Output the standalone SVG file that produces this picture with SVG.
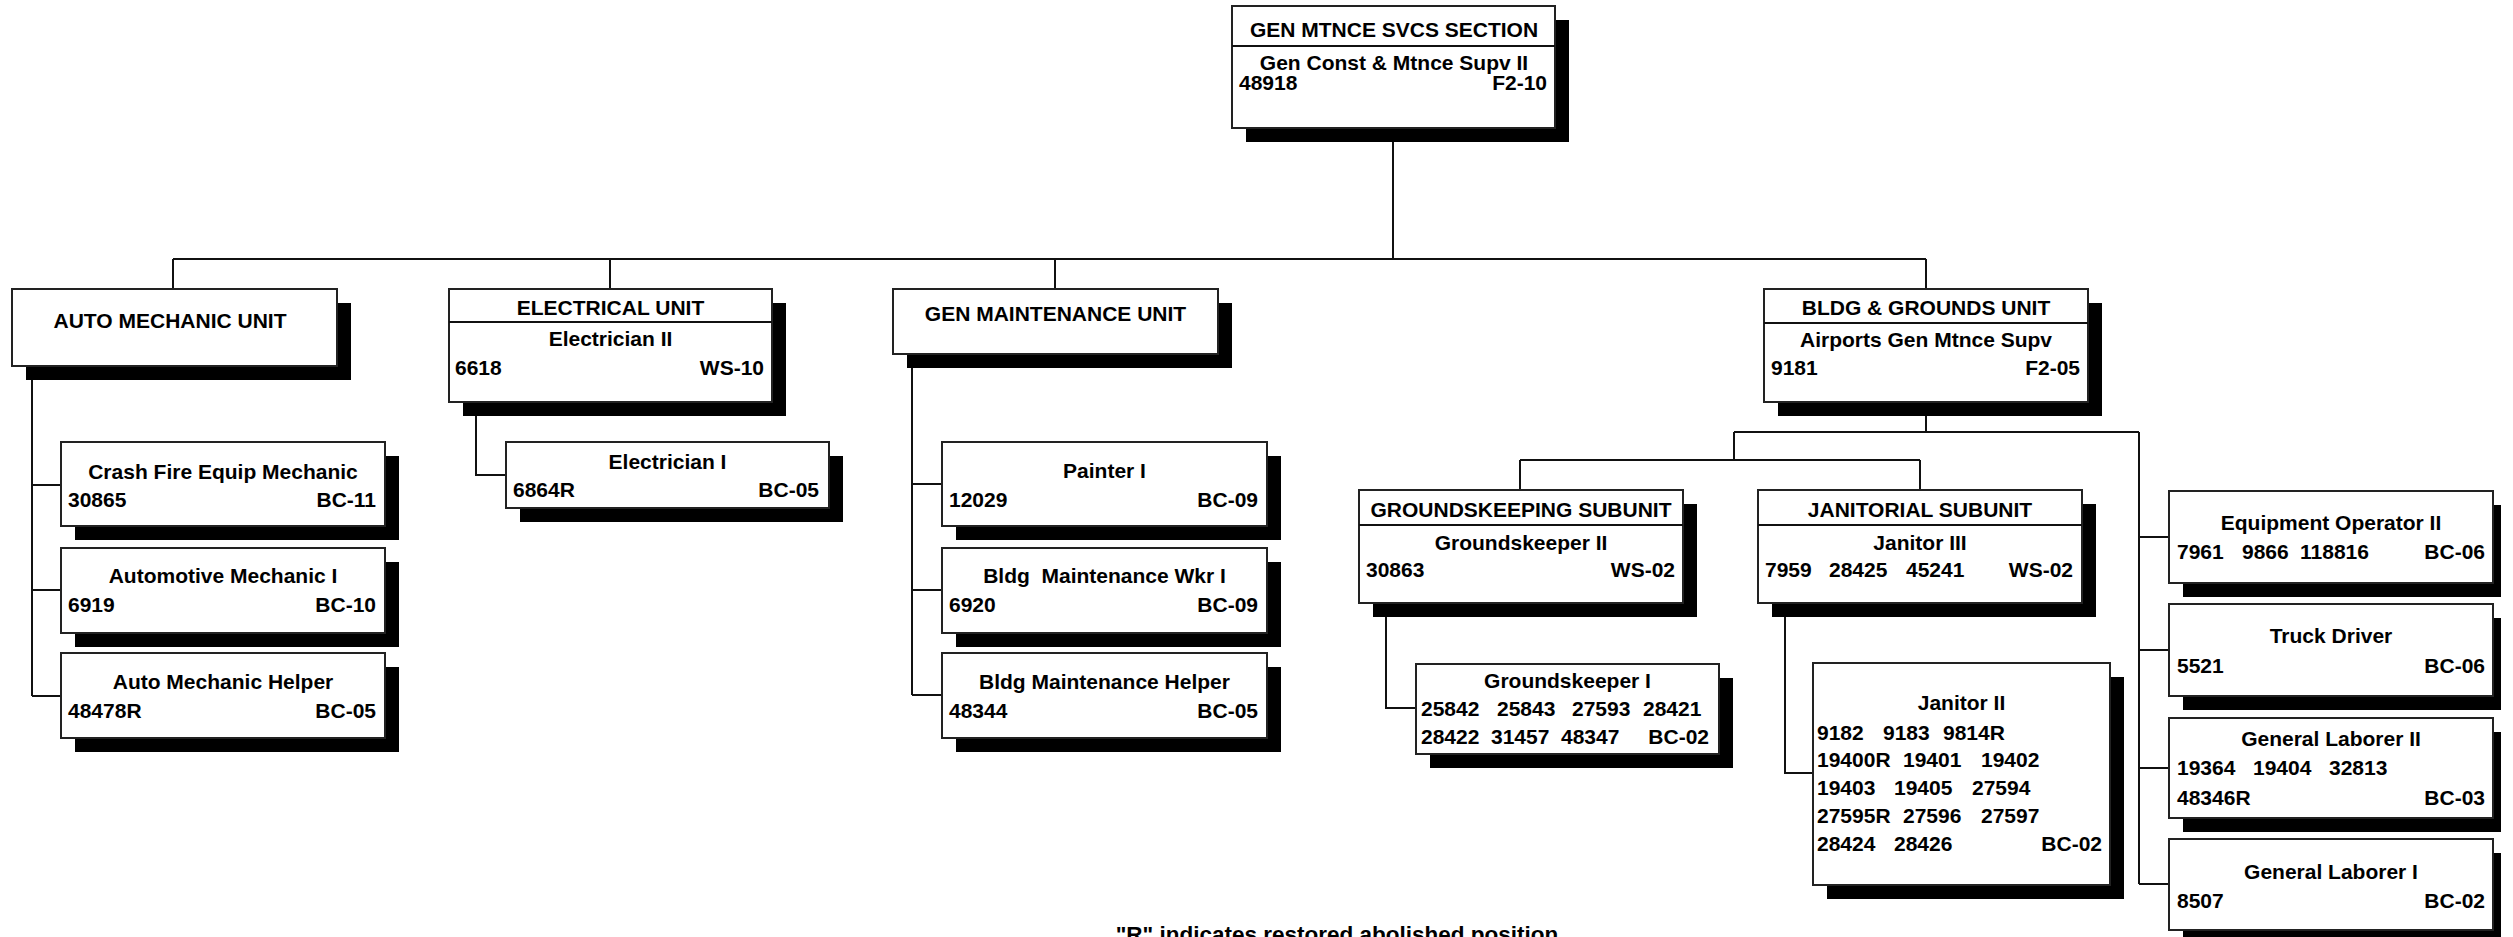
<svg xmlns="http://www.w3.org/2000/svg" width="2513" height="937" viewBox="0 0 2513 937">
<style>
.box{fill:#fff;stroke:#222;stroke-width:2}
.sh{fill:#000}
.ln{fill:none;stroke:#111;stroke-width:2}
text{font-family:'Liberation Sans',Arial,sans-serif;font-weight:bold;font-size:21px;fill:#000}
.c{text-anchor:middle}
.r{text-anchor:end}
.ft{font-size:22.5px}
</style>
<rect x="0" y="0" width="2513" height="937" fill="#fff"/>
<g id="connectors" class="ln">
<path d="M1393 128V259M173 259H1926M173 259V289M610 259V289M1055 259V289M1926 259V289"/>
<path d="M32 366V696M32 485H61M32 590H61M32 696H61"/>
<path d="M476 402V475H506"/>
<path d="M912 354V695M912 484H942M912 590H942M912 695H942"/>
<path d="M1926 402V432M1734 432H2139M1734 432V460M1520 460H1920M1520 460V490M1920 460V490"/>
<path d="M2139 432V884M2139 537H2169M2139 650H2169M2139 768H2169M2139 884H2169"/>
<path d="M1386 603V708H1416M1785 603V773H1813"/>
</g>
<g id="n-section">
<rect class="sh" x="1246" y="20" width="323" height="122"/>
<rect class="box" x="1232" y="6" width="323" height="122"/>
<line class="ln" x1="1232" y1="46" x2="1555" y2="46"/>
<text class="c" x="1394" y="37">GEN MTNCE SVCS SECTION</text>
<text class="c" x="1394" y="69.5">Gen Const &amp; Mtnce Supv II</text>
<text x="1239" y="89.5">48918</text>
<text class="r" x="1547" y="89.5">F2-10</text>
</g>
<g id="n-auto">
<rect class="sh" x="26" y="303" width="325" height="77"/>
<rect class="box" x="12" y="289" width="325" height="77"/>
<text class="c" x="170" y="327.5">AUTO MECHANIC UNIT</text>
</g>
<g id="n-crash">
<rect class="sh" x="75" y="456" width="324" height="84"/>
<rect class="box" x="61" y="442" width="324" height="84"/>
<text class="c" x="223" y="479">Crash Fire Equip Mechanic</text>
<text x="68" y="507">30865</text>
<text class="r" x="376" y="507">BC-11</text>
</g>
<g id="n-automotive">
<rect class="sh" x="75" y="562" width="324" height="85"/>
<rect class="box" x="61" y="548" width="324" height="85"/>
<text class="c" x="223" y="583">Automotive Mechanic I</text>
<text x="68" y="612">6919</text>
<text class="r" x="376" y="612">BC-10</text>
</g>
<g id="n-autohelper">
<rect class="sh" x="75" y="667" width="324" height="85"/>
<rect class="box" x="61" y="653" width="324" height="85"/>
<text class="c" x="223" y="688.5">Auto Mechanic Helper</text>
<text x="68" y="717.5">48478R</text>
<text class="r" x="376" y="717.5">BC-05</text>
</g>
<g id="n-electrical">
<rect class="sh" x="463" y="303" width="323" height="113"/>
<rect class="box" x="449" y="289" width="323" height="113"/>
<line class="ln" x1="449" y1="322" x2="772" y2="322"/>
<text class="c" x="610.5" y="315">ELECTRICAL UNIT</text>
<text class="c" x="610.5" y="346">Electrician II</text>
<text x="455" y="375">6618</text>
<text class="r" x="764" y="375">WS-10</text>
</g>
<g id="n-electrician1">
<rect class="sh" x="520" y="456" width="323" height="66"/>
<rect class="box" x="506" y="442" width="323" height="66"/>
<text class="c" x="667.5" y="468.5">Electrician I</text>
<text x="513" y="497">6864R</text>
<text class="r" x="819" y="497">BC-05</text>
</g>
<g id="n-genmaint">
<rect class="sh" x="907" y="303" width="325" height="65"/>
<rect class="box" x="893" y="289" width="325" height="65"/>
<text class="c" x="1055.5" y="321">GEN MAINTENANCE UNIT</text>
</g>
<g id="n-painter">
<rect class="sh" x="956" y="456" width="325" height="84"/>
<rect class="box" x="942" y="442" width="325" height="84"/>
<text class="c" x="1104.5" y="478">Painter I</text>
<text x="949" y="507">12029</text>
<text class="r" x="1258" y="507">BC-09</text>
</g>
<g id="n-bldgwkr">
<rect class="sh" x="956" y="562" width="325" height="85"/>
<rect class="box" x="942" y="548" width="325" height="85"/>
<text class="c" x="1104.5" y="583" xml:space="preserve">Bldg  Maintenance Wkr I</text>
<text x="949" y="612">6920</text>
<text class="r" x="1258" y="612">BC-09</text>
</g>
<g id="n-bldghelper">
<rect class="sh" x="956" y="667" width="325" height="85"/>
<rect class="box" x="942" y="653" width="325" height="85"/>
<text class="c" x="1104.5" y="688.5">Bldg Maintenance Helper</text>
<text x="949" y="717.5">48344</text>
<text class="r" x="1258" y="717.5">BC-05</text>
</g>
<g id="n-bldggrounds">
<rect class="sh" x="1778" y="303" width="324" height="113"/>
<rect class="box" x="1764" y="289" width="324" height="113"/>
<line class="ln" x1="1764" y1="323" x2="2088" y2="323"/>
<text class="c" x="1926" y="314.5">BLDG &amp; GROUNDS UNIT</text>
<text class="c" x="1926" y="346.5">Airports Gen Mtnce Supv</text>
<text x="1771" y="375">9181</text>
<text class="r" x="2080" y="375">F2-05</text>
</g>
<g id="n-groundskeeping">
<rect class="sh" x="1373" y="504" width="324" height="113"/>
<rect class="box" x="1359" y="490" width="324" height="113"/>
<line class="ln" x1="1359" y1="525" x2="1683" y2="525"/>
<text class="c" x="1521" y="517">GROUNDSKEEPING SUBUNIT</text>
<text class="c" x="1521" y="549.5">Groundskeeper II</text>
<text x="1366" y="577">30863</text>
<text class="r" x="1675" y="577">WS-02</text>
</g>
<g id="n-groundskeeper1">
<rect class="sh" x="1430" y="678" width="303" height="90"/>
<rect class="box" x="1416" y="664" width="303" height="90"/>
<text class="c" x="1567.5" y="687.5">Groundskeeper I</text>
<text x="1421" y="716">25842</text>
<text x="1497" y="716">25843</text>
<text x="1572" y="716">27593</text>
<text x="1643" y="716">28421</text>
<text x="1421" y="744">28422</text>
<text x="1491" y="744">31457</text>
<text x="1561" y="744">48347</text>
<text class="r" x="1709" y="744">BC-02</text>
</g>
<g id="n-janitorial">
<rect class="sh" x="1772" y="504" width="324" height="113"/>
<rect class="box" x="1758" y="490" width="324" height="113"/>
<line class="ln" x1="1758" y1="525" x2="2082" y2="525"/>
<text class="c" x="1920" y="517">JANITORIAL SUBUNIT</text>
<text class="c" x="1920" y="549.5">Janitor III</text>
<text x="1765" y="577">7959</text>
<text x="1829" y="577">28425</text>
<text x="1906" y="577">45241</text>
<text class="r" x="2073" y="577">WS-02</text>
</g>
<g id="n-janitor2">
<rect class="sh" x="1827" y="677" width="297" height="222"/>
<rect class="box" x="1813" y="663" width="297" height="222"/>
<text class="c" x="1961.5" y="710">Janitor II</text>
<text x="1817" y="739.5">9182</text>
<text x="1883" y="739.5">9183</text>
<text x="1943" y="739.5">9814R</text>
<text x="1817" y="767">19400R</text>
<text x="1903" y="767">19401</text>
<text x="1981" y="767">19402</text>
<text x="1817" y="795">19403</text>
<text x="1894" y="795">19405</text>
<text x="1972" y="795">27594</text>
<text x="1817" y="823">27595R</text>
<text x="1903" y="823">27596</text>
<text x="1981" y="823">27597</text>
<text x="1817" y="851">28424</text>
<text x="1894" y="851">28426</text>
<text class="r" x="2102" y="851">BC-02</text>
</g>
<g id="n-equipop">
<rect class="sh" x="2183" y="505" width="318" height="92"/>
<rect class="box" x="2169" y="491" width="324" height="92"/>
<text class="c" x="2331" y="530">Equipment Operator II</text>
<text x="2177" y="558.5">7961</text>
<text x="2242" y="558.5">9866</text>
<text x="2300" y="558.5">118816</text>
<text class="r" x="2485" y="558.5">BC-06</text>
</g>
<g id="n-truck">
<rect class="sh" x="2183" y="618" width="318" height="92"/>
<rect class="box" x="2169" y="604" width="324" height="92"/>
<text class="c" x="2331" y="642.5">Truck Driver</text>
<text x="2177" y="672.5">5521</text>
<text class="r" x="2485" y="672.5">BC-06</text>
</g>
<g id="n-genlab2">
<rect class="sh" x="2183" y="732" width="318" height="100"/>
<rect class="box" x="2169" y="718" width="324" height="100"/>
<text class="c" x="2331" y="746">General Laborer II</text>
<text x="2177" y="775">19364</text>
<text x="2253" y="775">19404</text>
<text x="2329" y="775">32813</text>
<text x="2177" y="804.5">48346R</text>
<text class="r" x="2485" y="804.5">BC-03</text>
</g>
<g id="n-genlab1">
<rect class="sh" x="2183" y="853" width="318" height="91"/>
<rect class="box" x="2169" y="839" width="324" height="91"/>
<text class="c" x="2331" y="878.5">General Laborer I</text>
<text x="2177" y="907.5">8507</text>
<text class="r" x="2485" y="907.5">BC-02</text>
</g>
<text id="footer" class="c ft" x="1337" y="942">"R" indicates restored abolished position</text>
</svg>
